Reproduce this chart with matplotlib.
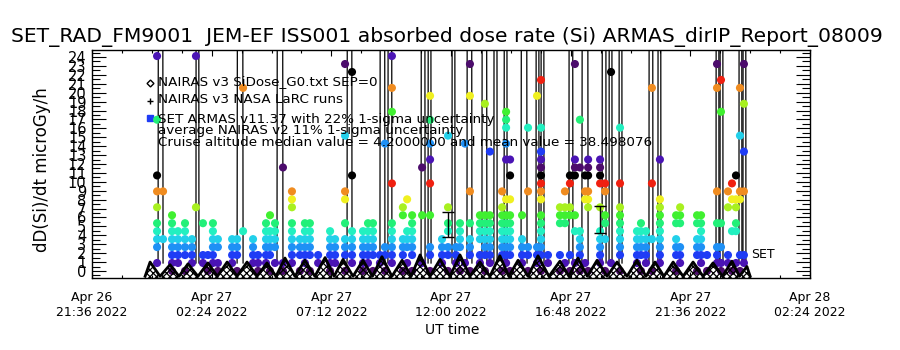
import numpy as np
import pandas as pd
import matplotlib
matplotlib.use("Agg")
import matplotlib.pyplot as plt
from matplotlib.ticker import MultipleLocator
import matplotlib.dates as mdates

plt.rcParams['font.family'] = ['DejaVu Sans']
plt.rcParams['hatch.linewidth'] = 0.9

# ===== data =====
T0 = pd.Timestamp("2022-04-26 21:36")   # left edge of the time axis
DOSE_STEP = 0.893                        # microGy/h per ARMAS level
SPIKE_PEAK = 300.0                       # off-scale readings

# ARMAS columns: hours after T0, and the dose levels seen at that time
armas_hours = [
    2.61, 2.85, 3.21, 3.45, 3.73, 4.01, 4.17, 4.45, 4.65, 4.85, 5.05, 5.62,
    5.82, 6.06, 6.46, 6.66, 6.98, 7.14, 7.34, 7.66, 8.02, 8.34, 8.54, 8.74,
    9.07, 9.55, 9.75, 10.15, 10.43, 10.87, 11.07, 11.27, 11.55, 11.75, 12.03,
    12.47, 12.64, 12.84, 13.24, 13.56, 14.04, 14.28, 14.60, 14.76, 14.96,
    15.16, 15.56, 15.76, 15.96, 16.45, 16.61, 16.77, 17.25, 17.49, 17.85,
    18.01, 18.29, 18.77, 18.97, 19.17, 19.37, 19.57, 19.78, 19.90, 20.38,
    20.58, 20.82, 21.18, 21.86, 22.02, 22.22, 22.46, 22.78, 23.43, 23.59,
    24.27, 24.43, 24.67, 25.07, 25.23, 25.51, 25.67, 25.83, 25.99, 26.15,
]
armas_levels = [
    [1, 3, 4, 5, 6, 8, 10, 12, 19, 27], [4, 10], [0, 1, 2, 3, 4, 5, 6, 7],
    [1, 2, 3, 4, 5], [0, 2, 3, 4, 5, 6], [1, 2, 3, 4], [8, 27], [1, 2, 6],
    [0, 2], [1, 2, 3, 4, 5, 6], [0, 1, 3, 4], [1, 2, 3, 4],
    [0, 2, 3, 4], [5, 23], [1, 2, 3, 4], [0, 1, 2], [1, 2, 3, 4, 5, 6],
    [0, 2, 3, 4, 5, 7], [1, 3, 4, 5, 6], [0, 1, 13], [1, 2, 3, 4, 5, 6, 8, 9, 10],
    [0, 2, 3, 4], [1, 2, 3, 4, 5, 6], [0, 2, 3, 4, 5, 6],
    [1, 2], [0, 1, 2, 3, 4, 5], [1, 2, 3, 4], [0, 2, 3, 4, 6, 9, 10, 17, 26],
    [1, 2, 3, 4, 5, 12, 25], [0, 1, 2, 3, 4, 5], [1, 2, 3, 4, 5, 6],
    [0, 2, 3, 4, 5, 6], [1, 2], [0, 2, 3, 16], [1, 2, 3, 4, 5, 6, 11, 20, 23, 27],
    [0, 2, 3, 4, 7, 8], [1, 3, 4, 5, 9], [0, 2, 3, 4, 5, 6, 7], [1, 7, 13],
    [0, 2, 3, 7, 11, 14, 16, 19, 22], [1, 2, 3, 4], [0, 2, 3, 5, 6, 8, 17],
    [1, 2, 3], [0, 3, 4, 5, 6], [1, 16],
    [0, 2, 3, 4, 6, 10, 22, 26], [1, 2, 4, 5, 6, 7], [0, 2, 3, 4, 5, 6, 7, 21],
    [1, 2, 3, 4, 5, 6, 7, 15], [0, 2, 3, 4, 5, 6, 7, 8, 10],
    [1, 2, 3, 4, 5, 6, 7, 9, 14, 16, 18, 19, 20],
    [0, 2, 3, 4, 5, 6, 7, 9, 12, 14], [1, 2, 3, 4, 7], [0, 2, 3, 10, 18],
    [1, 2, 3, 22], [0, 2, 3, 4, 5, 6, 7, 9, 10, 11, 12, 13, 14, 15, 18, 24],
    [1, 2], [0, 2, 6, 7, 8], [1, 6, 7, 8, 10], [0, 2, 7, 8, 11, 12],
    [1, 5, 7, 12, 13, 14, 26], [0, 2, 3, 4, 5, 13, 19], [1, 9, 10, 12],
    [0, 8, 9, 10, 12, 13, 14], [1, 2, 3, 4, 5, 8, 11, 12, 13, 14],
    [0, 4, 6, 7, 10, 11], [1, 25], [0, 2, 3, 4, 5, 6, 7, 8, 11, 18],
    [1, 2, 3, 4, 5], [0, 2, 3, 4, 5, 6], [1, 2, 3, 4, 5], [0, 4, 11, 23],
    [1, 2, 3, 4, 5, 6, 7, 8, 9, 14], [0, 2, 3, 4, 6, 7], [1, 2, 3, 6, 7, 8],
    [0, 2, 3, 4, 6, 7], [1, 2, 3, 4, 5, 6, 7], [0, 2], [1, 2, 3, 6, 10, 23, 26],
    [0, 1, 3, 6, 20, 24], [1, 2, 8, 10], [0, 5, 9, 11], [1, 5, 6, 8, 9, 12],
    [0, 2, 9, 10, 17, 23], [1, 2, 10, 15, 21, 26],
]

# off-scale ARMAS spikes: time of the rise and of the fall (hours after T0)
spike_start = [2.65, 4.17, 5.82, 7.42, 10.23, 11.55, 11.87, 13.20, 13.48, 14.44,
               15.04, 15.64, 16.12, 16.53, 17.21, 17.81, 18.01, 19.13, 19.65,
               20.46, 20.74, 21.14, 22.34, 22.70, 25.03, 25.19, 25.95, 26.11]
spike_end = [2.85, 4.29, 6.06, 7.66, 10.43, 11.75, 12.03, 13.36, 13.60, 14.56,
             15.24, 15.84, 16.25, 16.65, 17.45, 17.93, 18.13, 19.29, 19.90,
             20.62, 20.86, 21.26, 22.50, 22.82, 25.15, 25.31, 26.07, 26.23]

# NAIRAS model along the orbit (alternating lows and high-latitude peaks)
nairas_hours = [2.13, 2.33, 2.73, 3.13, 3.49, 3.85, 4.25, 4.65, 5.03, 5.42,
                5.82, 6.22, 6.62, 7.02, 7.38, 7.74, 8.14, 8.54, 8.94, 9.35,
                9.71, 10.07, 10.47, 10.87, 11.25, 11.63, 12.03, 12.44, 12.80,
                13.16, 13.56, 13.96, 14.36, 14.76, 15.16, 15.56, 15.96, 16.36,
                16.72, 17.09, 17.49, 17.89, 18.33, 18.77, 19.13, 19.49, 19.87,
                20.26, 20.66, 21.06, 21.46, 21.86, 22.22, 22.58, 22.94, 23.31,
                23.71, 24.11, 24.51, 24.91, 25.29, 25.67, 25.97, 26.27, 26.40]
nairas_dose = [-0.6, 1.0, -0.6, 0.7, -0.6, 0.8, -0.6, 0.9, -0.6, 1.0,
               -0.6, 1.0, -0.6, 0.9, -0.6, 1.45, -0.6, 1.2, -0.6, 1.5,
               -0.6, 1.3, -0.6, 1.2, -0.6, 1.6, -0.6, 1.2, -0.6,
               1.8, -0.6, 1.3, -0.6, 1.8, -0.6, 1.0, -0.6, 1.7,
               -0.6, 1.2, -0.6, 1.7, -0.6, 1.1, -0.6, 1.45, -0.6,
               1.2, -0.6, 1.0, -0.6, 1.2, -0.6, 1.0, -0.6, 1.0,
               -0.6, 1.0, -0.6, 0.9, -0.6, 1.1, -0.6, 0.5, -0.6]

# 1-sigma error bars
err_hours = [14.28, 20.38]
err_dose = [5.2, 5.8]
err_sigma = [1.4, 1.5]

# cyclic colour table used for the ARMAS levels
level_colors = ["#4c0c6c", "#4a14b4", "#1f3cf5", "#1e90f5", "#22d0ea",
                "#22f0c0", "#22f078", "#40f030", "#a8f020", "#f0f020",
                "#f08c20", "#f02010", "#000000"]

title = "SET_RAD_FM9001  JEM-EF ISS001 absorbed dose rate (Si) ARMAS_dirIP_Report_08009"


def to_time(hours):
    return (T0 + pd.to_timedelta(np.asarray(hours, dtype=float), unit="h")).to_numpy()


# ===== flatten ARMAS columns =====
pt_hours = []
pt_level = []
for h, levels in zip(armas_hours, armas_levels):
    for k in levels:
        pt_hours.append(h)
        pt_level.append(k)
pt_level = np.array(pt_level)
pt_dose = pt_level * DOSE_STEP
pt_color = [level_colors[k % len(level_colors)] for k in pt_level]

# ===== figure =====
fig = plt.figure(figsize=(9, 3.5), dpi=100)
ax = fig.add_axes([92 / 900, 72 / 350, 718 / 900, 228 / 350])

# spikes (black lines going off the top)
for s, e in zip(spike_start, spike_end):
    ax.plot(to_time([s, (s + e) / 2, e]), [DOSE_STEP, SPIKE_PEAK, DOSE_STEP],
            color="black", linewidth=0.9, zorder=2)

# ARMAS dots
ax.scatter(to_time(pt_hours), pt_dose, c=pt_color, s=34, marker="o",
           edgecolors="none", zorder=3)

ax.errorbar(to_time(err_hours), err_dose, yerr=err_sigma, fmt="none",
            ecolor="black", elinewidth=1, capsize=4, zorder=4)

# NAIRAS
nt = to_time(nairas_hours)
ax.fill_between(nt, nairas_dose, -0.8, facecolor="none", edgecolor="black",
                hatch="xxxxx", linewidth=0, zorder=4)
ax.plot(nt, nairas_dose, color="black", linewidth=2.0, zorder=5)

ax.annotate("SET", xy=(to_time([armas_hours[-1]])[0], 1.8),
            xytext=(5, 0), textcoords="offset points",
            ha="left", va="center", fontsize=9)

# ===== legend text =====
ax.plot([0.081], [0.855], transform=ax.transAxes, marker="D", markersize=3.5,
        markerfacecolor="white", markeredgecolor="black", linestyle="none")
ax.plot([0.081], [0.776], transform=ax.transAxes, marker="+", markersize=5,
        color="black", linestyle="none")
ax.plot([0.081], [0.70], transform=ax.transAxes, marker="s", markersize=4,
        color="#1f3cf5", linestyle="none")
legend_lines = [
    (0.860, "NAIRAS v3 SiDose_G0.txt SEP=0"),
    (0.781, "NAIRAS v3 NASA LaRC runs"),
    (0.697, "SET ARMAS v11.37 with 22% 1-sigma uncertainty"),
    (0.645, "average NAIRAS v2 11% 1-sigma uncertainty"),
    (0.596, "Cruise altitude median value = 4.2000000 and mean value = 38.498076"),
]
for y, s in legend_lines:
    ax.text(0.092, y, s, transform=ax.transAxes, ha="left", va="center",
            fontsize=9.7, zorder=6)

# ===== axes =====
ax.set_xlim(to_time([0.0])[0], to_time([28.8])[0])
ax.set_ylim(-0.79, 24.79)

major_x = pd.date_range(T0, periods=7, freq="288min")
minor_x = pd.date_range(T0, periods=25, freq="72min")
ax.set_xticks(major_x.to_numpy())
ax.set_xticks(minor_x.to_numpy(), minor=True)
ax.xaxis.set_major_formatter(mdates.DateFormatter("%b %d\n%H:%M %Y"))

ax.yaxis.set_major_locator(MultipleLocator(1))
ax.yaxis.set_minor_locator(MultipleLocator(0.5))

ax.tick_params(axis="both", which="both", direction="in", top=True, right=True,
               width=0.8, colors="black")
ax.tick_params(axis="y", which="major", length=10, labelsize=10.5, pad=4)
ax.tick_params(axis="y", which="minor", length=6)
ax.tick_params(axis="x", which="major", length=4, labelsize=9, pad=9)
ax.tick_params(axis="x", which="minor", length=2.5)
for sp in ax.spines.values():
    sp.set_linewidth(1)

fig.text(0.497, 1 - 37 / 350, title, ha="center", va="center", fontsize=14.6)
fig.text(42 / 900, 1 - 170 / 350, "dD(Si)/dt microGy/h", rotation=90,
         ha="center", va="center", fontsize=12)
fig.text(452 / 900, 1 - 330 / 350, "UT time", ha="center", va="center",
         fontsize=10)

plt.savefig("out.png", dpi=100)
plt.close()
